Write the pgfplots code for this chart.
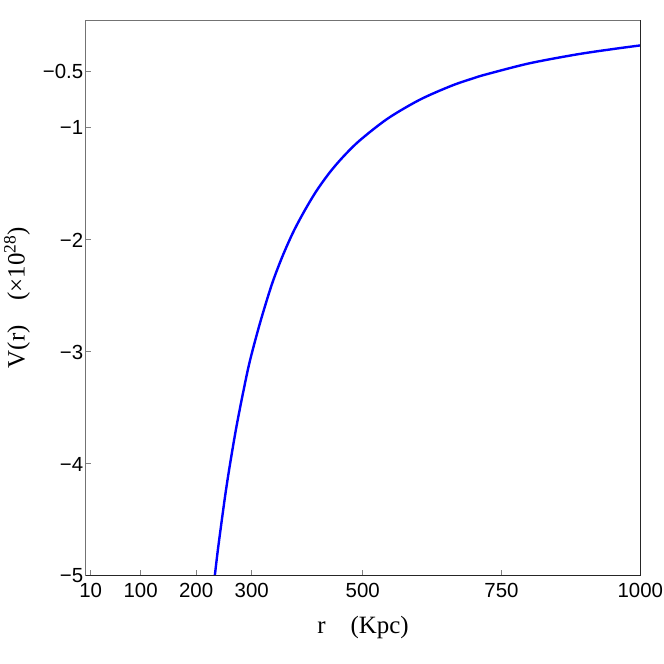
\documentclass[border=0pt]{standalone}
\usepackage{fontspec}
\setmainfont{Liberation Serif}
\newfontfamily\arial{Liberation Sans}
\usepackage{pgfplots}
\pgfplotsset{compat=1.18}

\begin{document}
\begin{tikzpicture}
\begin{axis}[
    scale only axis,
    width=554.6bp, height=555bp,
    xmin=1, xmax=1000,
    ymin=-5, ymax=-0.045,
    xtick={10,100,200,300,500,750,1000},
    xticklabels={10,100,200,300,500,750,1000},
    ytick={-5,-4,-3,-2,-1,-0.5},
    yticklabels={−5,−4,−3,−2,−1,−0.5},
    xtick pos=left, ytick pos=left,
    tick align=inside,
    major tick length=5bp,
    tick style={gray, line width=0.6bp},
    ticklabel style={font=\arial\fontsize{20.5}{21}\selectfont},
    xticklabel style={yshift=-5bp},
    yticklabel style={xshift=1bp, yshift=-1bp},
    axis line style={gray!90!black, line width=0.8bp},
    xlabel={r\quad(Kpc)},
    ylabel={V(r)\quad(×10\textsuperscript{28})},
    label style={font=\fontsize{25}{30}\selectfont},
    xlabel style={at={(axis description cs:0.5,-0.0955)}, anchor=center},
    ylabel style={at={(axis description cs:-0.1239,0.5)}, anchor=center},
    clip mode=individual,
]
\addplot[blue, line width=2.4bp, smooth] coordinates {
    (229.0,-5.20)
    (233.7,-5.00)
    (240.0,-4.74)
    (251.7,-4.31)
    (260.0,-4.04)
    (272.0,-3.69)
    (285.0,-3.36)
    (296.7,-3.09)
    (315.0,-2.75)
    (336.0,-2.41)
    (355.0,-2.16)
    (374.7,-1.94)
    (395.0,-1.75)
    (416.8,-1.57)
    (440.7,-1.405)
    (465.0,-1.265)
    (494.7,-1.12)
    (545.0,-0.925)
    (602.7,-0.757)
    (660.0,-0.632)
    (700.0,-0.564)
    (722.8,-0.530)
    (800.0,-0.432)
    (884.8,-0.353)
    (950.0,-0.305)
    (1000.0,-0.272)
};
\draw[black!85, line width=0.8bp] (rel axis cs:0,0) -- (rel axis cs:1,0) -- (rel axis cs:1,1);
\end{axis}
\pgfresetboundingbox
\path ([xshift=-85.7bp,yshift=-89bp]current axis.south west) rectangle ([xshift=23.7bp,yshift=20bp]current axis.north east);
\end{tikzpicture}
\end{document}
